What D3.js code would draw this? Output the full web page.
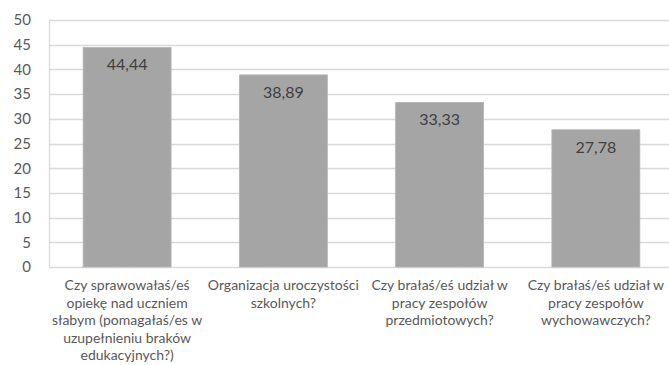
<!DOCTYPE html>
<html>
<head>
<meta charset="utf-8">
<script src="https://cdn.jsdelivr.net/npm/d3@7"></script>
<style>
  html, body { margin: 0; padding: 0; background: #fff; }
  svg { display: block; }
</style>
</head>
<body>
<svg id="chart" width="669" height="365"></svg>
<script>
// Survey answers (percent), one bar per question
const categories = [
  "Czy sprawowałaś/eś\nopiekę nad uczniem\nsłabym (pomagałaś/es w\nuzupełnieniu braków\nedukacyjnych?)",
  "Organizacja uroczystości\nszkolnych?",
  "Czy brałaś/eś udział w\npracy zespołów\nprzedmiotowych?",
  "Czy brałaś/eś udział w\npracy zespołów\nwychowawczych?"
];
const values = [44.44, 38.89, 33.33, 27.78];
const valueLabels = ["44,44", "38,89", "33,33", "27,78"];
const yTicks = [0, 5, 10, 15, 20, 25, 30, 35, 40, 45, 50];

const svg = d3.select("#chart");
const margin = { left: 49, right: -5, top: 20, bottom: 98 };
const W = 669, H = 365;
const FONT = "Lato, 'Open Sans', sans-serif";

const x = d3.scaleBand()
  .domain(d3.range(categories.length))
  .range([margin.left, W - margin.right])
  .paddingInner(0.437)
  .paddingOuter(0.2185);

const y = d3.scaleLinear()
  .domain([0, 50])
  .range([H - margin.bottom, margin.top]);

// horizontal gridlines
svg.append("g")
  .selectAll("line")
  .data(yTicks)
  .join("line")
  .attr("x1", margin.left)
  .attr("x2", W - margin.right)
  .attr("y1", d => Math.round(y(d)) + 0.5)
  .attr("y2", d => Math.round(y(d)) + 0.5)
  .attr("stroke", "#d9d9d9")
  .attr("stroke-width", 1.3);

// left frame line
svg.append("line")
  .attr("x1", margin.left + 0.5).attr("x2", margin.left + 0.5)
  .attr("y1", y(50)).attr("y2", y(0))
  .attr("stroke", "#d9d9d9").attr("stroke-width", 1.3);

// y axis labels
const yAxis = d3.axisLeft(y).tickValues(yTicks).tickSize(0).tickPadding(18);
const gy = svg.append("g")
  .attr("transform", `translate(${margin.left},0)`)
  .call(yAxis);
gy.select(".domain").remove();
gy.selectAll("text")
  .attr("font-family", FONT)
  .attr("font-size", 15)
  .attr("fill", "#595959");

// bars
svg.append("g")
  .selectAll("rect")
  .data(values)
  .join("rect")
  .attr("x", (d, i) => x(i))
  .attr("width", x.bandwidth())
  .attr("y", d => y(d))
  .attr("height", d => y(0) - y(d))
  .attr("fill", "#a5a5a5")
  .attr("stroke", "#b4b4b4")
  .attr("stroke-width", 0.8);

// value labels inside bar tops
svg.append("g")
  .selectAll("text")
  .data(values)
  .join("text")
  .attr("x", (d, i) => x(i) + x.bandwidth() / 2)
  .attr("y", d => y(d) + 23)
  .attr("text-anchor", "middle")
  .attr("font-family", FONT)
  .attr("font-size", 16)
  .attr("fill", "#404040")
  .text((d, i) => valueLabels[i]);

// category labels, wrapped on explicit line breaks
const catG = svg.append("g")
  .selectAll("text")
  .data(categories)
  .join("text")
  .attr("x", (d, i) => x(i) + x.bandwidth() / 2)
  .attr("y", 290)
  .attr("text-anchor", "middle")
  .attr("font-family", FONT)
  .attr("font-size", 14)
  .attr("fill", "#595959");
catG.each(function(d, i) {
  const t = d3.select(this);
  const cx = x(i) + x.bandwidth() / 2;
  d.split("\n").forEach((line, k) => {
    t.append("tspan")
      .attr("x", cx)
      .attr("dy", k === 0 ? 0 : 17.5)
      .text(line);
  });
});
</script>
</body>
</html>
